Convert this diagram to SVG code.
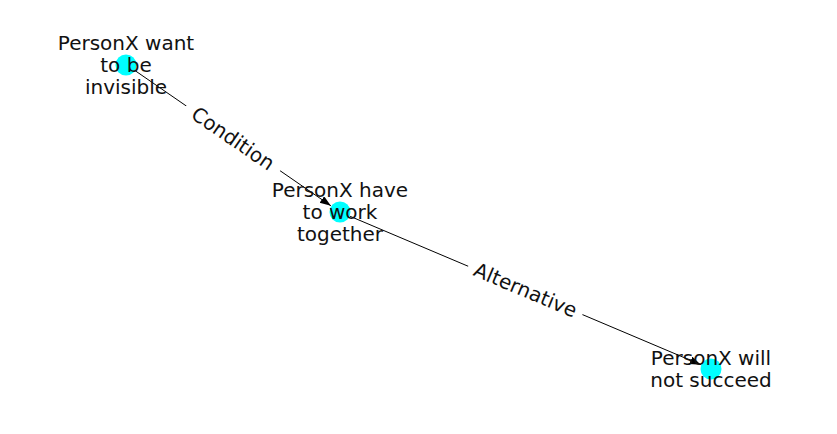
<svg xmlns="http://www.w3.org/2000/svg" width="837" height="434" viewBox="0 0 837 434">
<style>
.node{fill:#00ffff;}
.lbl{font-family:"DejaVu Sans",sans-serif;font-size:20px;fill:#111;text-anchor:middle;}
.edge{stroke:#000;stroke-width:1;fill:none;}
.elbl{font-family:"DejaVu Sans",sans-serif;font-size:20px;fill:#111;text-anchor:middle;dominant-baseline:central;}
</style>
<defs>
<marker id="arr" markerUnits="userSpaceOnUse" markerWidth="12" markerHeight="10" refX="11" refY="4" orient="auto">
<path d="M0,0 L11,4 L0,8 z" fill="#000"/>
</marker>
</defs>
<rect width="837" height="434" fill="#fff"/>
<g id="edges">
<line class="edge" x1="135.9" y1="71.2" x2="330.9" y2="205.8" marker-end="url(#arr)"/>
<line class="edge" x1="350.1" y1="216.3" x2="700.9" y2="364.7" marker-end="url(#arr)"/>
<g transform="translate(233,138.5) rotate(34.5)">
<rect x="-57" y="-13" width="114" height="26" fill="#fff"/>
<text class="elbl" x="0" y="0">Condition</text>
</g>
<g transform="translate(525.5,290) rotate(22.9)">
<rect x="-62" y="-13" width="124" height="26" fill="#fff"/>
<text class="elbl" x="0" y="0">Alternative</text>
</g>
</g>
<g id="node-a">
<circle class="node" cx="126" cy="65" r="10.5"/>
<text class="lbl" x="126" y="49.5">PersonX want</text>
<text class="lbl" x="126" y="71.5">to be</text>
<text class="lbl" x="126" y="93.5">invisible</text>
</g>
<g id="node-b">
<circle class="node" cx="340" cy="212" r="10.5"/>
<text class="lbl" x="340" y="196.5">PersonX have</text>
<text class="lbl" x="340" y="218.5">to work</text>
<text class="lbl" x="340" y="240.5">together</text>
</g>
<g id="node-c">
<circle class="node" cx="711" cy="369" r="10.5"/>
<text class="lbl" x="711" y="364.5">PersonX will</text>
<text class="lbl" x="711" y="386.5">not succeed</text>
</g>
</svg>
